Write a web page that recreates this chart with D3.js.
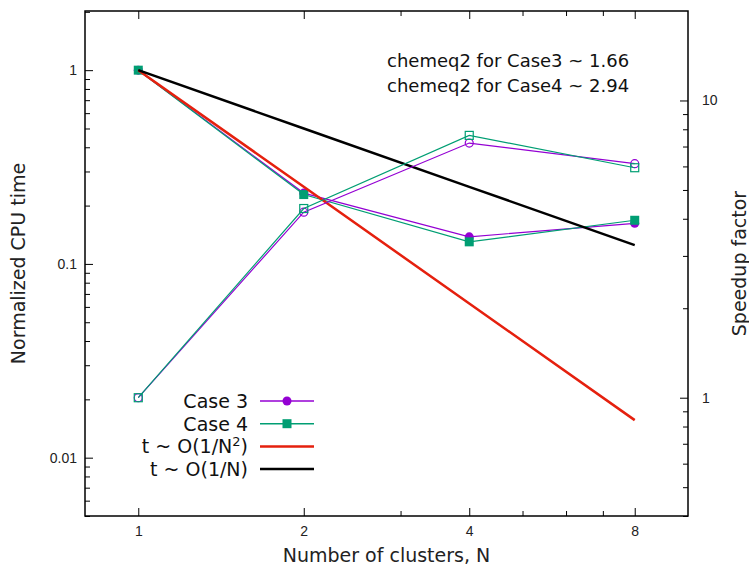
<!DOCTYPE html>
<html>
<head>
<meta charset="utf-8">
<script src="https://cdn.jsdelivr.net/npm/d3@7"></script>
<style>
  body { margin: 0; background: #fff; }
  svg { font-family: "DejaVu Sans", sans-serif; }
  .axis path, .axis line { stroke: #000; }
  .axis text { font-size: 14px; fill: #222; }
</style>
</head>
<body>
<svg width="749" height="567"></svg>
<script>
// data
const clusters = [1, 2, 4, 8];
const case3Time = [1, 0.232, 0.138, 0.162];
const case4Time = [1, 0.228, 0.130, 0.168];
const case3Speedup = [1, 4.21, 7.19, 6.13];
const case4Speedup = [1, 4.33, 7.63, 5.94];
const orderN2 = [1, 0.25, 0.0625, 0.015625];
const orderN = [1, 0.5, 0.25, 0.125];
const xMajor = [1, 2, 4, 8];
const xMinor = [3, 5, 6, 7];
const notes = ["chemeq2 for Case3 ~ 1.66", "chemeq2 for Case4 ~ 2.94"];

const WIDTH = 749, HEIGHT = 567;
const margin = { left: 85, right: 61, top: 11, bottom: 51 };
const PURPLE = "#9400d3", GREEN = "#009e73", RED = "#e5200e";

const svg = d3.select("svg");

const x = d3.scaleLog().base(2).domain([0.8, 10]).range([margin.left, WIDTH - margin.right]);
const yL = d3.scaleLog().domain([0.005, 2.02]).range([HEIGHT - margin.bottom, margin.top]);
const yR = d3.scaleLog().domain([0.4, 20]).range([HEIGHT - margin.bottom, margin.top]);

const decadeTicks = (lo, hi) => {
  const major = [], minor = [];
  for (let p = -3; p <= 2; p++) {
    for (let k = 1; k <= 9; k++) {
      const v = k * Math.pow(10, p);
      if (v < lo * 0.999 || v > hi * 1.001) continue;
      (k === 1 ? major : minor).push(v);
    }
  }
  return { major, minor };
};

const fmt = v => (v >= 1 ? d3.format("d")(v) : String(+v.toPrecision(1)));

const pBottom = HEIGHT - margin.bottom, pTop = margin.top;
const pLeft = margin.left, pRight = WIDTH - margin.right;

// x axis, bottom and top
svg.append("g").attr("class", "axis").attr("transform", `translate(0,${pBottom})`)
  .call(d3.axisBottom(x).tickValues(xMajor).tickFormat(d3.format("d"))
    .tickSizeInner(-8).tickSizeOuter(0).tickPadding(10));
svg.append("g").attr("class", "axis").attr("transform", `translate(0,${pBottom})`)
  .call(d3.axisBottom(x).tickValues(xMinor).tickFormat("").tickSizeInner(-5).tickSizeOuter(0));
svg.append("g").attr("class", "axis").attr("transform", `translate(0,${pTop})`)
  .call(d3.axisTop(x).tickValues(xMajor).tickFormat("").tickSizeInner(-8).tickSizeOuter(0));
svg.append("g").attr("class", "axis").attr("transform", `translate(0,${pTop})`)
  .call(d3.axisTop(x).tickValues(xMinor).tickFormat("").tickSizeInner(-5).tickSizeOuter(0));

// left axis
const lt = decadeTicks(0.005, 2.02);
svg.append("g").attr("class", "axis").attr("transform", `translate(${pLeft},0)`)
  .call(d3.axisLeft(yL).tickValues(lt.major).tickFormat(fmt)
    .tickSizeInner(-8).tickSizeOuter(0).tickPadding(8));
svg.append("g").attr("class", "axis").attr("transform", `translate(${pLeft},0)`)
  .call(d3.axisLeft(yL).tickValues(lt.minor).tickFormat("").tickSizeInner(-5).tickSizeOuter(0));

// right axis
const rt = decadeTicks(0.4, 20);
svg.append("g").attr("class", "axis").attr("transform", `translate(${pRight},0)`)
  .call(d3.axisRight(yR).tickValues(rt.major).tickFormat(fmt)
    .tickSizeInner(-8).tickSizeOuter(0).tickPadding(14));
svg.append("g").attr("class", "axis").attr("transform", `translate(${pRight},0)`)
  .call(d3.axisRight(yR).tickValues(rt.minor.filter(v => v < 19.9)).tickFormat("")
    .tickSizeInner(-5).tickSizeOuter(0));
svg.selectAll(".axis .domain").remove();

// frame
svg.append("rect")
  .attr("x", pLeft).attr("y", pTop)
  .attr("width", pRight - pLeft).attr("height", pBottom - pTop)
  .attr("fill", "none").attr("stroke", "#000").attr("stroke-width", 1.5);

// axis titles
svg.append("text")
  .attr("x", (pLeft + pRight) / 2).attr("y", 562)
  .attr("text-anchor", "middle").style("font-size", "19px").attr("fill", "#222")
  .text("Number of clusters, N");
svg.append("text")
  .attr("transform", `translate(25,${(pTop + pBottom) / 2}) rotate(-90)`)
  .attr("text-anchor", "middle").style("font-size", "19px").attr("fill", "#222")
  .text("Normalized CPU time");
svg.append("text")
  .attr("transform", `translate(746,${(pTop + pBottom) / 2}) rotate(-90)`)
  .attr("text-anchor", "middle").style("font-size", "19px").attr("fill", "#222")
  .text("Speedup factor");

const plot = svg.append("g");
const lineOf = y => d3.line().x((d, i) => x(clusters[i])).y(d => y(d));

const drawSeries = (vals, y, color, width) =>
  plot.append("path").datum(vals)
    .attr("d", lineOf(y)).attr("fill", "none")
    .attr("stroke", color).attr("stroke-width", width);

const squareAt = (g, cx, cy, size) => g.append("rect")
  .attr("x", cx - size / 2).attr("y", cy - size / 2).attr("width", size).attr("height", size);

// normalized cpu time (filled markers)
drawSeries(case3Time, yL, PURPLE, 1.2);
plot.append("g").selectAll("circle").data(case3Time).join("circle")
  .attr("cx", (d, i) => x(clusters[i])).attr("cy", d => yL(d)).attr("r", 4.5).attr("fill", PURPLE);
drawSeries(case4Time, yL, GREEN, 1.2);
const c4 = plot.append("g").attr("fill", GREEN);
case4Time.forEach((d, i) => squareAt(c4, x(clusters[i]), yL(d), 9));

// reference slopes
drawSeries(orderN2, yL, RED, 2.5);
drawSeries(orderN, yL, "#000", 2.5);

// speedup (open markers)
drawSeries(case3Speedup, yR, PURPLE, 1.2);
plot.append("g").selectAll("circle").data(case3Speedup).join("circle")
  .attr("cx", (d, i) => x(clusters[i])).attr("cy", d => yR(d)).attr("r", 4)
  .attr("fill", "none").attr("stroke", PURPLE).attr("stroke-width", 1.2);
drawSeries(case4Speedup, yR, GREEN, 1.2);
const s4 = plot.append("g").attr("fill", "none").attr("stroke", GREEN).attr("stroke-width", 1.2);
case4Speedup.forEach((d, i) => squareAt(s4, x(clusters[i]), yR(d), 8));

// legend
const legend = svg.append("g").style("font-size", "19px").attr("fill", "#111");
const rowY = i => 401 + i * 22.7;
const entries = [
  { label: "Case 3", color: PURPLE, width: 1.5, marker: "circle" },
  { label: "Case 4", color: GREEN, width: 1.5, marker: "square" },
  { label: "t ~ O(1/N", sup: "2", tail: ")", color: RED, width: 2.5 },
  { label: "t ~ O(1/N)", color: "#000", width: 2.5 }
];
entries.forEach((e, i) => {
  const t = legend.append("text").attr("x", 248).attr("y", rowY(i) + 7).attr("text-anchor", "end");
  t.append("tspan").text(e.label);
  if (e.sup) {
    t.append("tspan").attr("dy", -7).style("font-size", "13px").text(e.sup);
    t.append("tspan").attr("dy", 7).text(e.tail);
  }
  legend.append("line")
    .attr("x1", 260).attr("x2", 314).attr("y1", rowY(i)).attr("y2", rowY(i))
    .attr("stroke", e.color).attr("stroke-width", e.width);
  if (e.marker === "circle") {
    legend.append("circle").attr("cx", 287).attr("cy", rowY(i)).attr("r", 4.5).attr("fill", e.color);
  } else if (e.marker === "square") {
    squareAt(legend.append("g").attr("fill", e.color), 287, rowY(i), 9);
  }
});

// annotation
svg.append("g").selectAll("text").data(notes).join("text")
  .attr("x", 387).attr("y", (d, i) => 67 + i * 25)
  .style("font-size", "18px").attr("fill", "#111")
  .text(d => d);
</script>
</body>
</html>
